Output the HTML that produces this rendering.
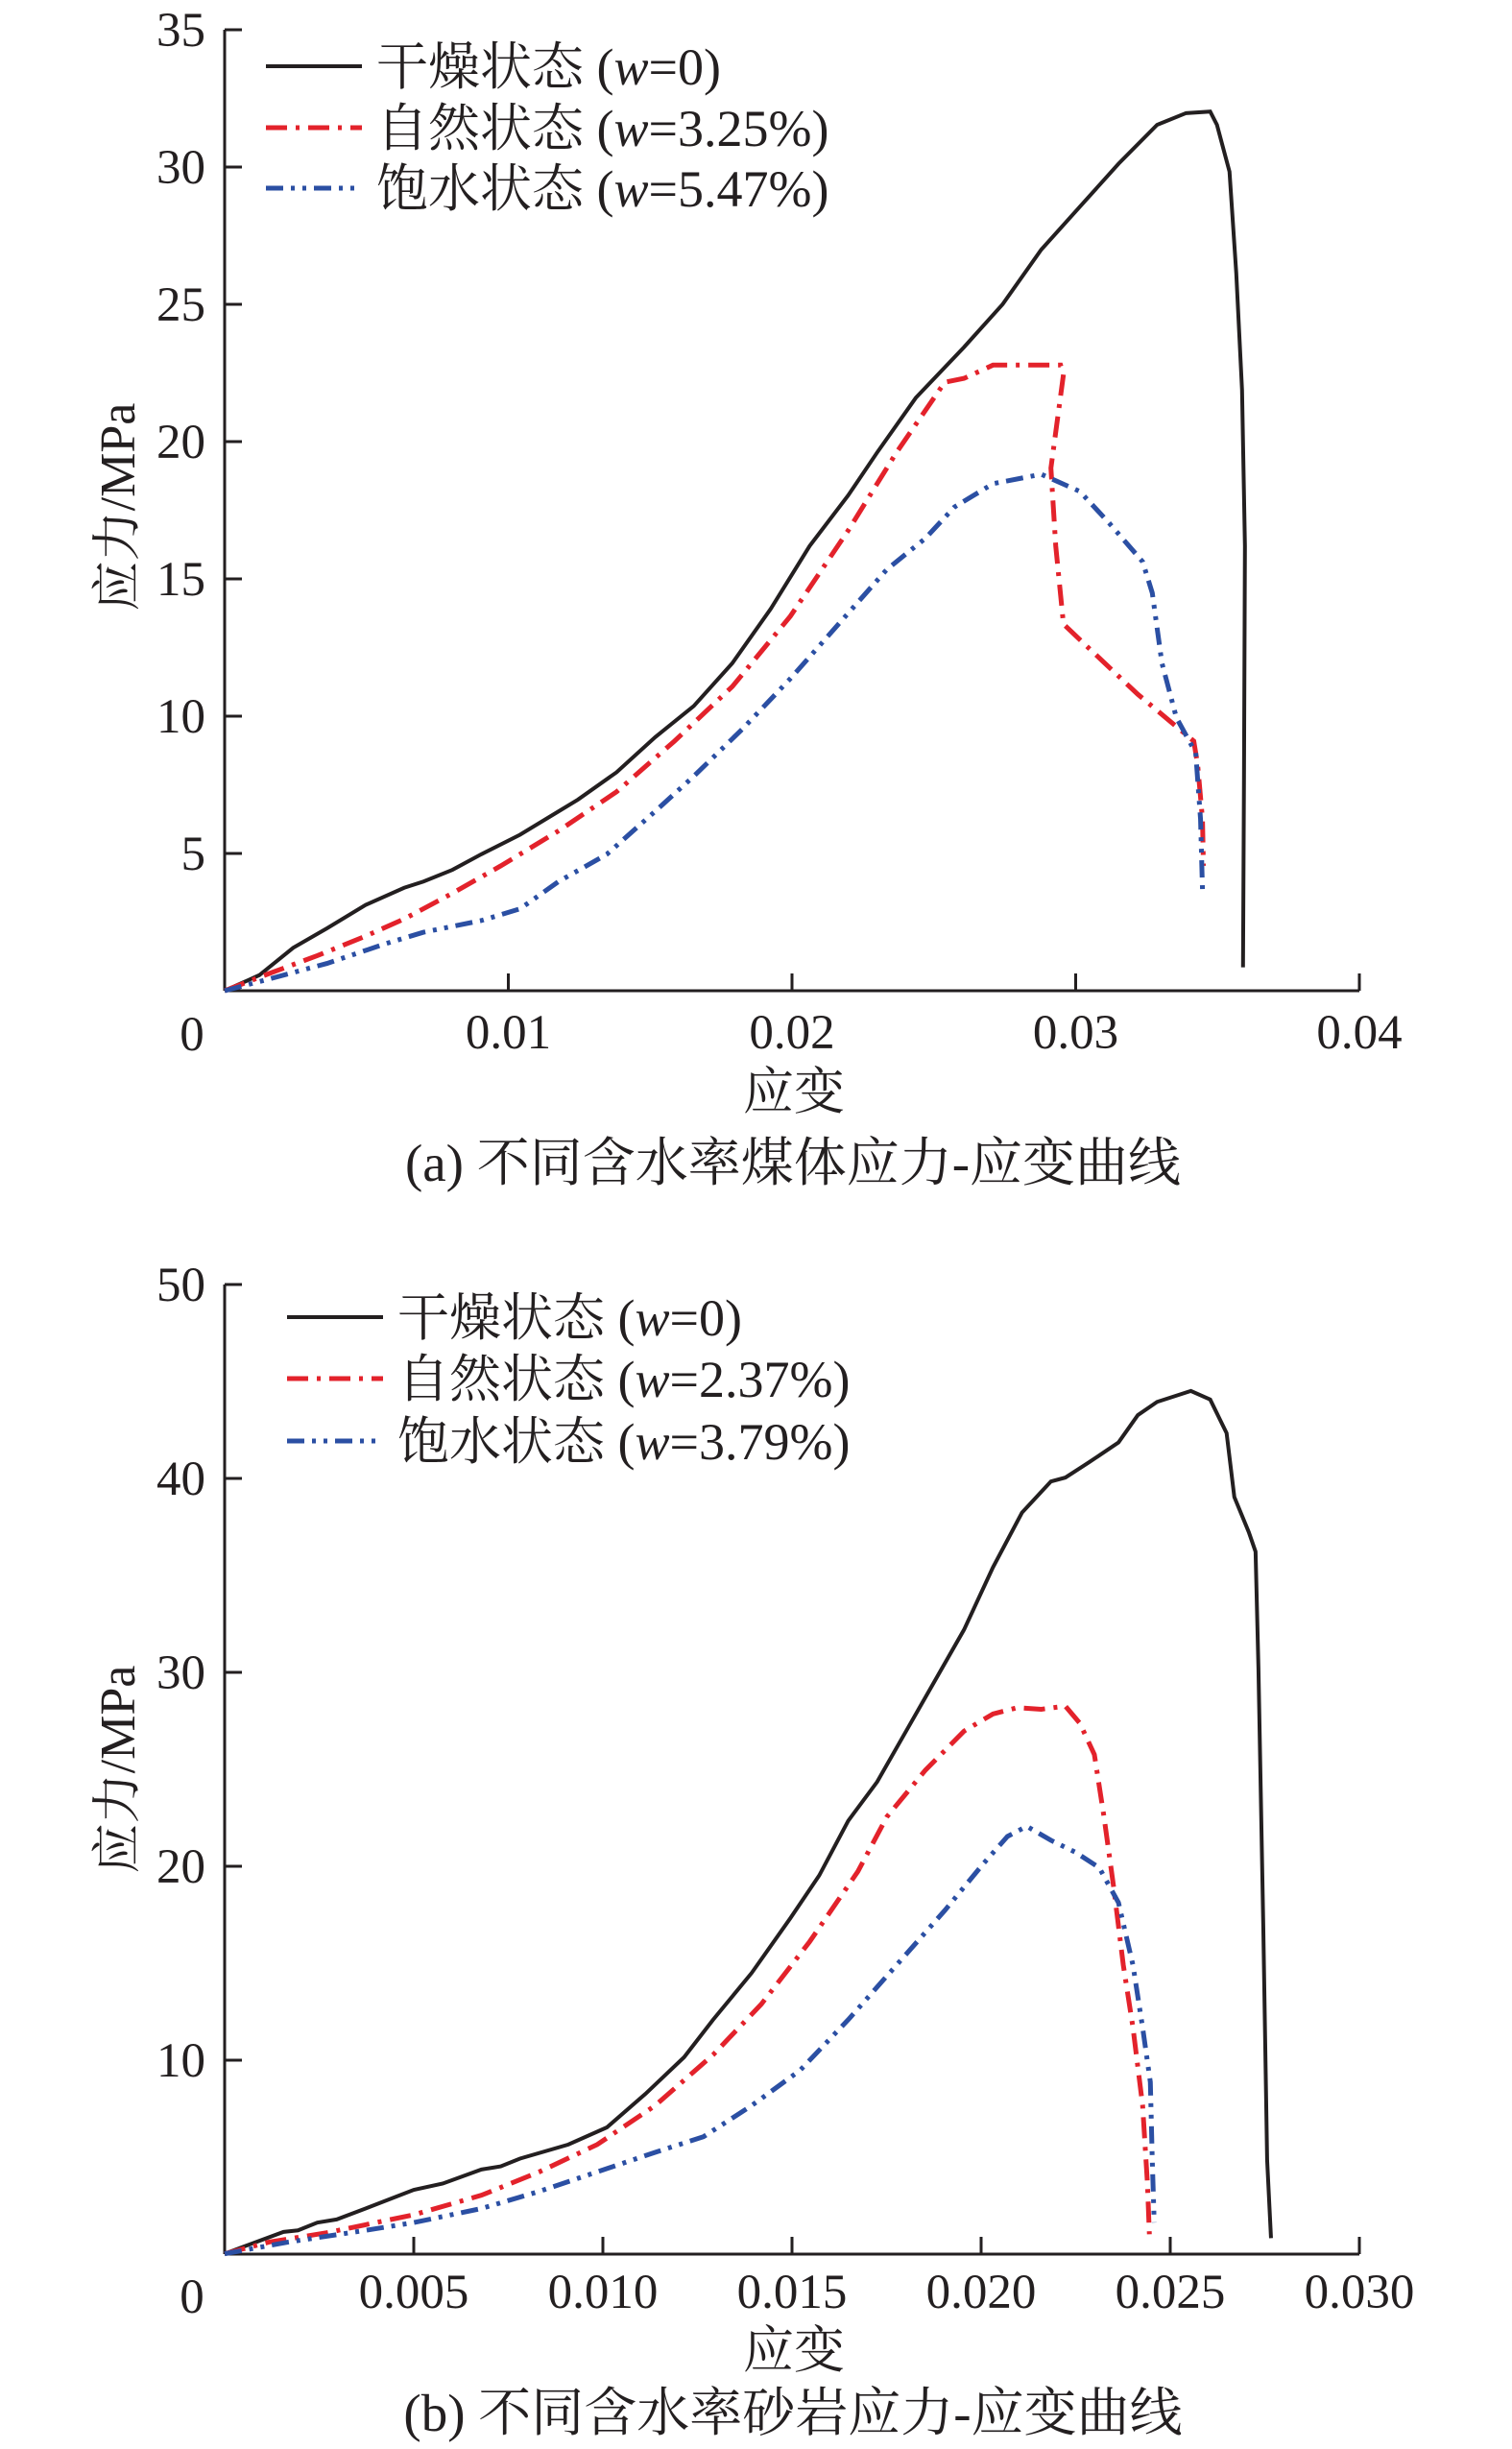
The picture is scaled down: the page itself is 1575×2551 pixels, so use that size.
<!DOCTYPE html>
<html><head><meta charset="utf-8"><style>
html,body{margin:0;padding:0;background:#fff;}
svg{display:block;}
text{font-family:"Liberation Serif","Noto Serif CJK SC","Noto Sans CJK SC",serif;fill:#231f20;}
</style></head><body>
<svg width="1575" height="2551" viewBox="0 0 1575 2551" xmlns="http://www.w3.org/2000/svg">
<!-- Chart A -->
<g stroke="#231f20" stroke-width="3" fill="none">
<line x1="234" y1="31" x2="234" y2="1032"/>
<line x1="234" y1="1032" x2="1416" y2="1032"/>
<line x1="234" y1="31" x2="252" y2="31"/>
<line x1="234" y1="174" x2="252" y2="174"/>
<line x1="234" y1="317" x2="252" y2="317"/>
<line x1="234" y1="460" x2="252" y2="460"/>
<line x1="234" y1="603" x2="252" y2="603"/>
<line x1="234" y1="746" x2="252" y2="746"/>
<line x1="234" y1="889" x2="252" y2="889"/>
<line x1="529.5" y1="1032" x2="529.5" y2="1014"/>
<line x1="825" y1="1032" x2="825" y2="1014"/>
<line x1="1120.5" y1="1032" x2="1120.5" y2="1014"/>
<line x1="1416" y1="1032" x2="1416" y2="1014"/>
</g>
<g font-size="51" text-anchor="end">
<text x="214" y="48">35</text><text x="214" y="191">30</text><text x="214" y="334">25</text>
<text x="214" y="477">20</text><text x="214" y="620">15</text><text x="214" y="763">10</text><text x="214" y="906">5</text>
</g>
<g font-size="51" text-anchor="middle">
<text x="200" y="1094">0</text><text x="529.5" y="1092">0.01</text><text x="825" y="1092">0.02</text>
<text x="1120.5" y="1092">0.03</text><text x="1416" y="1092">0.04</text>
<text font-size="53" x="827" y="1155">应变</text>
<text font-size="55" x="826" y="1230">(a) 不同含水率煤体应力-应变曲线</text>
</g>
<text font-size="52" text-anchor="middle" transform="translate(140,528) rotate(-90)">应力/MPa</text>
<g font-size="54">
<text x="392" y="88">干燥状态 (<tspan font-style="italic">w</tspan>=0)</text>
<text x="392" y="152">自然状态 (<tspan font-style="italic">w</tspan>=3.25%)</text>
<text x="392" y="215">饱水状态 (<tspan font-style="italic">w</tspan>=5.47%)</text>
</g>
<line x1="277" y1="69" x2="377" y2="69" stroke="#231f20" stroke-width="4"/>
<line x1="277" y1="133" x2="377" y2="133" stroke="#e3222b" stroke-width="5" stroke-dasharray="22,9,4,9"/>
<line x1="277" y1="196" x2="377" y2="196" stroke="#2b4fa3" stroke-width="5" stroke-dasharray="18,8,4,8,4,8"/>
<g transform="translate(234,0) scale(1.0055,0.8126) translate(-234,0)" fill="none">
<polyline vector-effect="non-scaling-stroke" stroke="#231f20" stroke-width="4" points="234,1270 270,1250 305,1215 340,1190 380,1160 420,1138 440,1130 470,1115 500,1095 540,1070 580,1040 600,1025 640,990 680,945 720,905 760,850 800,780 840,700 880,635 910,580 950,510 1000,445 1040,390 1080,320 1120,265 1160,210 1200,160 1230,145 1255,143 1262,160 1275,220 1282,350 1288,500 1291,700 1290,1000 1289,1240"/>
<polyline vector-effect="non-scaling-stroke" stroke="#e3222b" stroke-width="5" stroke-dasharray="22,9,4,9" points="234,1270 280,1248 330,1225 380,1200 420,1178 470,1145 520,1110 580,1065 640,1015 700,950 760,880 820,790 880,680 930,580 980,490 1000,485 1030,468 1100,468 1103,480 1090,600 1095,700 1103,800 1120,820 1180,890 1238,950 1242,980 1247,1050 1248,1110"/>
<polyline vector-effect="non-scaling-stroke" stroke="#2b4fa3" stroke-width="5" stroke-dasharray="18,8,4,8,4,8" points="234,1270 280,1255 340,1235 400,1210 440,1195 500,1180 540,1165 580,1130 630,1095 680,1040 720,995 770,935 820,870 870,800 920,730 960,690 990,650 1030,620 1080,608 1120,630 1150,670 1185,720 1195,760 1205,850 1220,920 1240,965 1245,1050 1247,1140"/>
</g>

<!-- Chart B -->
<g stroke="#231f20" stroke-width="3" fill="none">
<line x1="234" y1="1338" x2="234" y2="2348"/>
<line x1="234" y1="2348" x2="1416" y2="2348"/>
<line x1="234" y1="1338" x2="252" y2="1338"/>
<line x1="234" y1="1540" x2="252" y2="1540"/>
<line x1="234" y1="1742" x2="252" y2="1742"/>
<line x1="234" y1="1944" x2="252" y2="1944"/>
<line x1="234" y1="2146" x2="252" y2="2146"/>
<line x1="431" y1="2348" x2="431" y2="2330"/>
<line x1="628" y1="2348" x2="628" y2="2330"/>
<line x1="825" y1="2348" x2="825" y2="2330"/>
<line x1="1022" y1="2348" x2="1022" y2="2330"/>
<line x1="1219" y1="2348" x2="1219" y2="2330"/>
<line x1="1416" y1="2348" x2="1416" y2="2330"/>
</g>
<g font-size="51" text-anchor="end">
<text x="214" y="1355">50</text><text x="214" y="1557">40</text><text x="214" y="1759">30</text>
<text x="214" y="1961">20</text><text x="214" y="2163">10</text>
</g>
<g font-size="51" text-anchor="middle">
<text x="200" y="2409">0</text><text x="431" y="2404">0.005</text><text x="628" y="2404">0.010</text>
<text x="825" y="2404">0.015</text><text x="1022" y="2404">0.020</text><text x="1219" y="2404">0.025</text><text x="1416" y="2404">0.030</text>
<text font-size="53" x="827" y="2466">应变</text>
<text font-size="55" x="826" y="2532">(b) 不同含水率砂岩应力-应变曲线</text>
</g>
<text font-size="52" text-anchor="middle" transform="translate(140,1843) rotate(-90)">应力/MPa</text>
<g font-size="54">
<text x="414" y="1391">干燥状态 (<tspan font-style="italic">w</tspan>=0)</text>
<text x="414" y="1455">自然状态 (<tspan font-style="italic">w</tspan>=2.37%)</text>
<text x="414" y="1520">饱水状态 (<tspan font-style="italic">w</tspan>=3.79%)</text>
</g>
<line x1="299" y1="1372" x2="399" y2="1372" stroke="#231f20" stroke-width="4"/>
<line x1="299" y1="1436" x2="399" y2="1436" stroke="#e3222b" stroke-width="5" stroke-dasharray="22,9,4,9"/>
<line x1="299" y1="1501" x2="399" y2="1501" stroke="#2b4fa3" stroke-width="5" stroke-dasharray="18,8,4,8,4,8"/>
<g transform="translate(234,1275) scale(1.0055,0.8126) translate(-234,0)" fill="none">
<polyline vector-effect="non-scaling-stroke" stroke="#231f20" stroke-width="4" points="234,1320 260,1308 295,1292 310,1290 330,1280 350,1276 380,1262 430,1238 460,1230 500,1212 520,1208 540,1198 590,1180 630,1158 670,1115 710,1068 740,1020 780,960 820,890 850,835 880,765 910,715 940,650 970,585 1000,520 1030,440 1060,370 1090,330 1105,325 1130,305 1160,280 1180,245 1200,228 1235,214 1255,225 1272,268 1280,350 1295,395 1302,420 1305,570 1310,900 1314,1200 1318,1300"/>
<polyline vector-effect="non-scaling-stroke" stroke="#e3222b" stroke-width="5" stroke-dasharray="22,9,4,9" points="234,1320 280,1305 340,1293 430,1270 500,1245 560,1215 620,1180 680,1130 740,1065 790,1000 840,920 890,830 920,760 960,700 1000,650 1030,628 1055,620 1080,622 1105,618 1120,640 1135,680 1145,760 1155,850 1165,950 1175,1030 1185,1130 1190,1230 1192,1295"/>
<polyline vector-effect="non-scaling-stroke" stroke="#2b4fa3" stroke-width="5" stroke-dasharray="18,8,4,8,4,8" points="234,1320 300,1305 380,1290 430,1280 500,1262 560,1240 620,1215 680,1190 730,1170 780,1130 830,1085 880,1020 930,950 980,880 1020,820 1045,785 1065,772 1090,790 1115,805 1140,825 1160,870 1175,950 1185,1030 1193,1100 1195,1200 1197,1280"/>
</g>
</svg>
</body></html>
